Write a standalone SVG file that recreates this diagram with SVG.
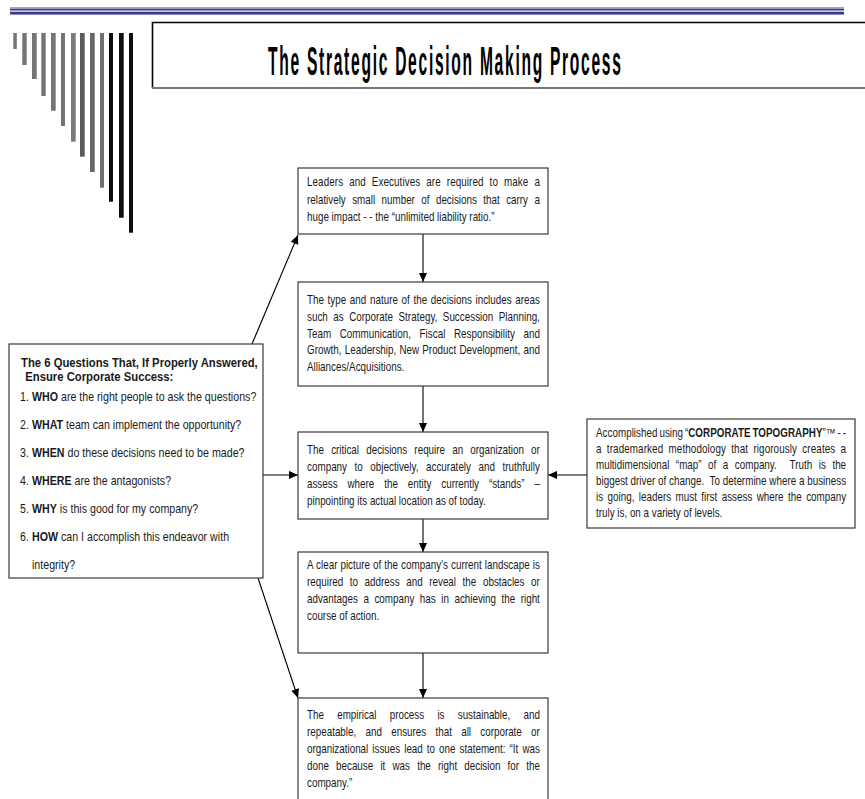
<svg xmlns="http://www.w3.org/2000/svg" width="865" height="799" viewBox="0 0 865 799">
<defs>
<style>
.bx{fill:#fff;stroke:#3a3a3a;stroke-width:1.2}
.t{font-family:"Liberation Sans",Arial,sans-serif;font-size:12px;fill:#1a1a1a}
.q{font-size:13px}
.qb{font-size:13.3px;font-weight:bold}
.b{font-weight:bold}
.pre{white-space:pre}
.cn{stroke:#000;stroke-width:1.1;fill:none}
.g1{fill:#747474}
.g2{fill:#0d0d0d}
</style>
<marker id="ah" viewBox="0 0 10 10" refX="10" refY="5" markerWidth="10" markerHeight="9" markerUnits="userSpaceOnUse" orient="auto">
<path d="M0,0.5 L10,5 L0,9.5 z" fill="#000"/>
</marker>
</defs>
<rect width="865" height="799" fill="#fff"/>

<g id="header">
<rect x="10" y="7" width="834" height="1" fill="#a4a4d2"/>
<rect x="10" y="8.5" width="834" height="2" fill="#3a3a8a"/>
<rect x="10" y="11" width="834" height="1" fill="#c4c4e4"/>
<rect x="10" y="12" width="834" height="2" fill="#3a3a8a"/>
<rect x="10" y="14" width="834" height="1" fill="#8c8cc0"/>
</g>

<g id="bars">
<rect class="g1" x="13.3" y="33" width="3.5" height="16"/>
<rect class="g1" x="22.3" y="33" width="4.4" height="32"/>
<rect class="g1" x="32" y="33" width="4.7" height="46"/>
<rect class="g1" x="41.3" y="33" width="4.4" height="63"/>
<rect class="g1" x="51" y="33" width="4.7" height="77.7"/>
<rect class="g1" x="61" y="33" width="4" height="93"/>
<rect x="71" y="33" width="4.7" height="108.7" fill="#7a7a7a"/>
<rect x="80" y="33" width="4.7" height="123.7" fill="#5a5a5a"/>
<rect x="90" y="33" width="4.7" height="139" fill="#666"/>
<rect x="100" y="33" width="4" height="154.7" fill="#707070"/>
<rect class="g2" x="109" y="33" width="4" height="168.7"/>
<rect class="g2" x="119" y="33" width="4.7" height="184.7"/>
<rect class="g2" x="129" y="33" width="4" height="199.7"/>
</g>

<g id="title">
<path d="M870,22.5 L152.5,22.5 L152.5,88" fill="none" stroke="#000" stroke-width="1.6"/>
<line x1="152" y1="88" x2="870" y2="88" stroke="#777" stroke-width="2"/>
<g transform="translate(268,75) scale(0.39,1)">
<text x="0" y="0" font-family="'Liberation Sans',Arial,sans-serif" font-size="40" font-weight="bold" fill="#000" textLength="905" lengthAdjust="spacing">The Strategic Decision Making Process</text>
</g>
</g>

<g id="connectors">
<path class="cn" d="M423,234 L423,282" marker-end="url(#ah)"/>
<path class="cn" d="M423,386 L423,432" marker-end="url(#ah)"/>
<path class="cn" d="M423,519 L423,552" marker-end="url(#ah)"/>
<path class="cn" d="M423,653 L423,698" marker-end="url(#ah)"/>
<path class="cn" d="M252,344 L298,235" marker-end="url(#ah)"/>
<path class="cn" d="M263,475 L298,475" marker-end="url(#ah)"/>
<path class="cn" d="M587,475 L548,475" marker-end="url(#ah)"/>
<path class="cn" d="M258,578 L298,698" marker-end="url(#ah)"/>
</g>

<g id="node-leaders">
<rect class="bx" x="298" y="168" width="250" height="66"/>
<g transform="translate(307,0) scale(0.82,1)">
<text class="t" x="0" y="186.5" word-spacing="3.9" textLength="284" lengthAdjust="spacing">Leaders and Executives are required to make a</text>
<text class="t" x="0" y="204" word-spacing="4.5" textLength="284" lengthAdjust="spacing">relatively small number of decisions that carry a</text>
<text class="t" x="0" y="221.5">huge impact - - the “unlimited liability ratio.”</text>
</g>
</g>

<g id="node-types">
<rect class="bx" x="298" y="282" width="250" height="104"/>
<g transform="translate(307,0) scale(0.82,1)">
<text class="t" x="0" y="304" word-spacing="1.1" textLength="284" lengthAdjust="spacing">The type and nature of the decisions includes areas</text>
<text class="t" x="0" y="320.8" word-spacing="3.3" textLength="284" lengthAdjust="spacing">such as Corporate Strategy, Succession Planning,</text>
<text class="t" x="0" y="337.6" word-spacing="7" textLength="284" lengthAdjust="spacing">Team Communication, Fiscal Responsibility and</text>
<text class="t" x="0" y="354.4" word-spacing="0.5" textLength="284" lengthAdjust="spacing">Growth, Leadership, New Product Development, and</text>
<text class="t" x="0" y="371.2">Alliances/Acquisitions.</text>
</g>
</g>

<g id="node-critical">
<rect class="bx" x="298" y="432" width="250" height="87"/>
<g transform="translate(307,0) scale(0.82,1)">
<text class="t" x="0" y="454" word-spacing="5.4" textLength="284" lengthAdjust="spacing">The critical decisions require an organization or</text>
<text class="t" x="0" y="471" word-spacing="5.8" textLength="284" lengthAdjust="spacing">company to objectively, accurately and truthfully</text>
<text class="t" x="0" y="488" word-spacing="8.8" textLength="284" lengthAdjust="spacing">assess where the entity currently “stands” –</text>
<text class="t" x="0" y="505">pinpointing its actual location as of today.</text>
</g>
</g>

<g id="node-picture">
<rect class="bx" x="298" y="552" width="250" height="101"/>
<g transform="translate(307,0) scale(0.82,1)">
<text class="t" x="0" y="569" word-spacing="0.3" textLength="284" lengthAdjust="spacing">A clear picture of the company’s current landscape is</text>
<text class="t" x="0" y="586" word-spacing="4.7" textLength="284" lengthAdjust="spacing">required to address and reveal the obstacles or</text>
<text class="t" x="0" y="603" word-spacing="3.4" textLength="284" lengthAdjust="spacing">advantages a company has in achieving the right</text>
<text class="t" x="0" y="620">course of action.</text>
</g>
</g>

<g id="node-empirical">
<rect class="bx" x="298" y="698" width="250" height="112"/>
<g transform="translate(307,0) scale(0.82,1)">
<text class="t" x="0" y="719.5" word-spacing="12.8" textLength="284" lengthAdjust="spacing">The empirical process is sustainable, and</text>
<text class="t" x="0" y="736.5" word-spacing="8" textLength="284" lengthAdjust="spacing">repeatable, and ensures that all corporate or</text>
<text class="t" x="0" y="753.5" word-spacing="1.6" textLength="284" lengthAdjust="spacing">organizational issues lead to one statement: “It was</text>
<text class="t" x="0" y="770.5" word-spacing="5.4" textLength="284" lengthAdjust="spacing">done because it was the right decision for the</text>
<text class="t" x="0" y="787.5">company.”</text>
</g>
</g>

<g id="node-questions">
<rect class="bx" x="9" y="344" width="254" height="234"/>
<g transform="translate(21,0) scale(0.85,1)">
<text class="t qb" x="0" y="367.5">The 6 Questions That, If Properly Answered,</text>
<text class="t qb" x="5" y="381.5">Ensure Corporate Success:</text>
</g>
<g transform="translate(20,0) scale(0.82,1)">
<text class="t q" x="0" y="401">1.</text>
<text class="t q" x="14.6" y="401"><tspan class="b">WHO</tspan> are the right people to ask the questions?</text>
<text class="t q" x="0" y="429">2.</text>
<text class="t q" x="14.6" y="429"><tspan class="b">WHAT</tspan> team can implement the opportunity?</text>
<text class="t q" x="0" y="457">3.</text>
<text class="t q" x="14.6" y="457"><tspan class="b">WHEN</tspan> do these decisions need to be made?</text>
<text class="t q" x="0" y="485">4.</text>
<text class="t q" x="14.6" y="485"><tspan class="b">WHERE</tspan> are the antagonists?</text>
<text class="t q" x="0" y="513">5.</text>
<text class="t q" x="14.6" y="513"><tspan class="b">WHY</tspan> is this good for my company?</text>
<text class="t q" x="0" y="541">6.</text>
<text class="t q" x="14.6" y="541"><tspan class="b">HOW</tspan> can I accomplish this endeavor with</text>
<text class="t q" x="14.6" y="569">integrity?</text>
</g>
</g>

<g id="node-topography">
<rect class="bx" x="587" y="419" width="268" height="109"/>
<g transform="translate(596,0) scale(0.82,1)">
<text class="t" x="0" y="437" word-spacing="-1" textLength="305" lengthAdjust="spacing">Accomplished using “<tspan class="b">CORPORATE TOPOGRAPHY</tspan>”™ - -</text>
<text class="t" x="0" y="453" word-spacing="3" textLength="305" lengthAdjust="spacing">a trademarked methodology that rigorously creates a</text>
<text class="t pre" x="0" y="469" word-spacing="4.6" textLength="305" lengthAdjust="spacing">multidimensional “map” of a company.  Truth is the</text>
<text class="t pre" x="0" y="485" textLength="305" lengthAdjust="spacing">biggest driver of change.  To determine where a business</text>
<text class="t" x="0" y="501" word-spacing="2.1" textLength="305" lengthAdjust="spacing">is going, leaders must first assess where the company</text>
<text class="t" x="0" y="517">truly is, on a variety of levels.</text>
</g>
</g>
</svg>
